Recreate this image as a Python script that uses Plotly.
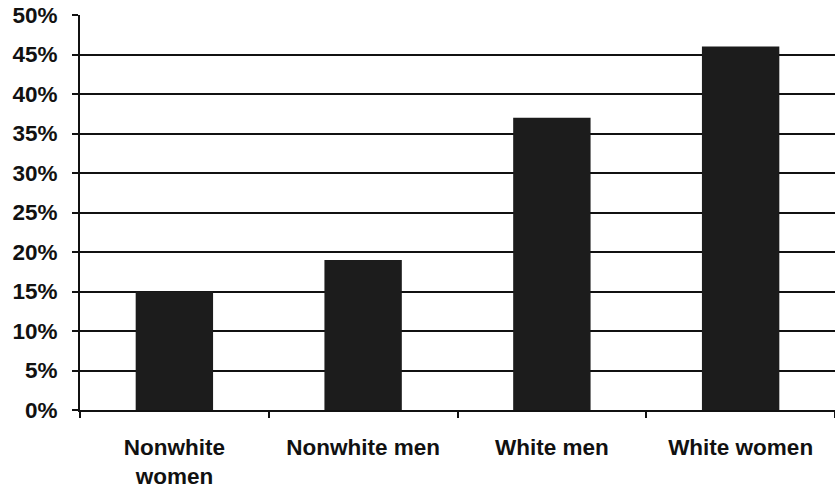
import plotly.graph_objects as go

categories = ["Nonwhite<br>women", "Nonwhite men", "White men", "White women"]
values = [0.15, 0.19, 0.37, 0.46]
tick_vals = [0, 0.05, 0.10, 0.15, 0.20, 0.25, 0.30, 0.35, 0.40, 0.45, 0.50]
tick_text = ["0%", "5%", "10%", "15%", "20%", "25%", "30%", "35%", "40%", "45%", "50%"]

fig = go.Figure()
fig.add_trace(go.Bar(
    x=categories, y=values,
    marker=dict(color="#1c1c1c", line=dict(width=0)),
    width=0.41,
))

tfont = dict(family="Liberation Sans, Arial, sans-serif", size=22.5, weight="bold", color="#111111")

fig.update_layout(
    width=835, height=489,
    margin=dict(l=80, r=0, t=15, b=79),
    paper_bgcolor="white", plot_bgcolor="white",
    showlegend=False,
    font=tfont,
)
fig.update_yaxes(
    range=[0, 0.5], tickvals=tick_vals, ticktext=tick_text,
    showgrid=True, gridcolor="#111111", gridwidth=2,
    zeroline=False,
    showline=True, linecolor="#111111", linewidth=2,
    ticks="outside", ticklen=6, tickcolor="#111111", tickwidth=2,
    ticklabelstandoff=10,
    automargin=False,
    tickfont=tfont,
)
fig.update_xaxes(
    showline=True, linecolor="#111111", linewidth=2,
    ticks="outside", tickson="boundaries", ticklen=6, tickcolor="#111111", tickwidth=2,
    ticklabelstandoff=16,
    automargin=False,
    tickfont=tfont,
)

fig.write_html(
    "out.html",
    config={"displayModeBar": False},
    post_script="document.body.style.margin='0';document.body.style.padding='0';",
)
